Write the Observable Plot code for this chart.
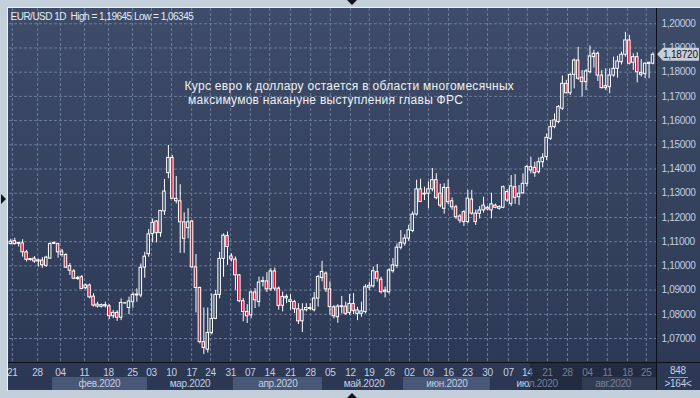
<!DOCTYPE html>
<html><head><meta charset="utf-8">
<script src="https://cdn.jsdelivr.net/npm/d3@7"></script>
<script src="https://cdn.jsdelivr.net/npm/@observablehq/plot@0.6"></script>
<style>
html,body{margin:0;padding:0;background:#c4cfdc;}
#chart{position:relative;width:700px;height:398px;overflow:hidden;}
</style></head><body><div id="chart"></div>
<script>
// ---- data: daily EUR/USD candles (open, high, low, close) ----
const opens = [1.1090,1.1102,1.1091,1.1093,1.1056,1.1024,1.1030,1.1018,1.1022,1.1000,1.1030,1.1091,1.1090,1.1059,1.1045,1.0999,1.0977,1.0946,1.0953,1.0908,1.0919,1.0873,1.0832,1.0831,1.0833,1.0833,1.0792,1.0806,1.0786,1.0845,1.0826,1.0850,1.0878,1.0878,1.0993,1.1048,1.1132,1.1183,1.1135,1.1225,1.1383,1.1446,1.1277,1.1267,1.1180,1.1156,1.1183,1.0994,1.0909,1.0685,1.0654,1.0723,1.0781,1.0880,1.1029,1.1123,1.1039,1.1026,1.0961,1.0854,1.0810,1.0796,1.0890,1.0851,1.0934,1.0936,1.0903,1.0977,1.0906,1.0835,1.0866,1.0851,1.0851,1.0821,1.0771,1.0817,1.0822,1.0817,1.0865,1.0950,1.0968,1.0903,1.0829,1.0788,1.0830,1.0832,1.0805,1.0843,1.0802,1.0802,1.0809,1.0910,1.0915,1.0974,1.0943,1.0893,1.0891,1.0978,1.1000,1.1075,1.1092,1.1113,1.1144,1.1212,1.1316,1.1295,1.1298,1.1316,1.1354,1.1298,1.1236,1.1322,1.1267,1.1242,1.1204,1.1222,1.1181,1.1274,1.1216,1.1215,1.1229,1.1240,1.1229,1.1249,1.1236,1.1240,1.1305,1.1256,1.1325,1.1284,1.1300,1.1339,1.1394,1.1405,1.1387,1.1428,1.1449,1.1525,1.1573,1.1594,1.1649,1.1752,1.1713,1.1789,1.1848,1.1777,1.1759,1.1800,1.1862,1.1876,1.1786,1.1742,1.1738,1.1786,1.1814,1.1841,1.1872,1.1931,1.1839,1.1862,1.1797,1.1793,1.1834,1.1835];
const highs = [1.1110,1.1114,1.1097,1.1108,1.1064,1.1031,1.1038,1.1028,1.1034,1.1040,1.1095,1.1098,1.1094,1.1068,1.1050,1.1010,1.0985,1.0957,1.0960,1.0925,1.0925,1.0885,1.0850,1.0842,1.0850,1.0840,1.0816,1.0815,1.0864,1.0848,1.0871,1.0891,1.0905,1.1008,1.1056,1.1150,1.1194,1.1187,1.1229,1.1357,1.1497,1.1456,1.1369,1.1335,1.1219,1.1236,1.1187,1.1047,1.0912,1.0826,1.0826,1.0884,1.0898,1.1056,1.1132,1.1140,1.1050,1.1037,1.0964,1.0865,1.0840,1.0895,1.0906,1.0954,1.0954,1.0972,1.0988,1.0991,1.0913,1.0892,1.0881,1.0881,1.0858,1.0844,1.0844,1.0844,1.0844,1.0890,1.0961,1.1019,1.0975,1.0934,1.0836,1.0840,1.0874,1.0850,1.0882,1.0885,1.0829,1.0850,1.0922,1.0933,1.0995,1.1006,1.0953,1.0912,1.0988,1.1030,1.1091,1.1146,1.1129,1.1168,1.1223,1.1354,1.1358,1.1325,1.1347,1.1402,1.1381,1.1337,1.1339,1.1355,1.1280,1.1250,1.1212,1.1228,1.1312,1.1312,1.1230,1.1245,1.1284,1.1245,1.1300,1.1255,1.1248,1.1330,1.1315,1.1373,1.1377,1.1332,1.1380,1.1415,1.1449,1.1428,1.1446,1.1463,1.1545,1.1601,1.1628,1.1662,1.1784,1.1766,1.1793,1.1855,1.1903,1.1807,1.1811,1.1908,1.1890,1.1883,1.1807,1.1814,1.1814,1.1862,1.1866,1.1883,1.19645,1.1952,1.1876,1.1880,1.1852,1.1839,1.1839,1.1880];
const lows = [1.1087,1.1086,1.1078,1.1036,1.1016,1.1020,1.1011,1.0995,1.0990,1.0994,1.1027,1.1088,1.1032,1.1036,1.0990,1.0960,1.0943,1.0940,1.0902,1.0902,1.0864,1.0830,1.0826,1.0826,1.0826,1.0778,1.0782,1.0771,1.0774,1.0842,1.0799,1.0825,1.0850,1.0868,1.0949,1.1036,1.1095,1.1095,1.1118,1.1208,1.1360,1.1274,1.1256,1.1052,1.1052,1.1112,1.0990,1.0806,1.0678,1.06345,1.0640,1.0715,1.0778,1.0864,1.0953,1.1002,1.1016,1.0899,1.0848,1.0769,1.0762,1.0782,1.0824,1.0830,1.0913,1.0890,1.0895,1.0895,1.0817,1.0810,1.0844,1.0817,1.0803,1.0758,1.0725,1.0810,1.0815,1.0810,1.0830,1.0934,1.0890,1.0796,1.0781,1.0763,1.0802,1.0795,1.0795,1.0799,1.0774,1.0788,1.0802,1.0898,1.0909,1.0933,1.0884,1.0868,1.0884,1.0970,1.0990,1.1066,1.1082,1.1101,1.1137,1.1206,1.1261,1.1270,1.1236,1.1306,1.1273,1.1240,1.1214,1.1253,1.1230,1.1192,1.1175,1.1163,1.1174,1.1209,1.1167,1.1194,1.1218,1.1228,1.1194,1.1236,1.1230,1.1236,1.1262,1.1245,1.1254,1.1249,1.1295,1.1325,1.1380,1.1366,1.1380,1.1405,1.1435,1.1518,1.1566,1.1587,1.1642,1.1711,1.1704,1.1731,1.1766,1.1697,1.1724,1.1793,1.1817,1.1762,1.1731,1.1724,1.1711,1.1779,1.1775,1.1830,1.1862,1.1830,1.1807,1.1756,1.1780,1.1773,1.1773,1.1830];
const closes = [1.1100,1.1090,1.1095,1.1056,1.1025,1.1028,1.1018,1.1023,1.1003,1.1034,1.1090,1.1095,1.1056,1.1045,1.0993,1.0980,1.0947,1.0950,1.0905,1.0919,1.0870,1.0836,1.0840,1.0838,1.0838,1.0792,1.0806,1.0786,1.0847,1.0846,1.0853,1.0880,1.0882,1.0992,1.1038,1.1130,1.1178,1.1135,1.1227,1.1307,1.1446,1.1277,1.1267,1.1180,1.1112,1.1180,1.0994,1.0909,1.0685,1.0661,1.0723,1.0781,1.0880,1.1029,1.1125,1.1078,1.1027,1.0961,1.0854,1.0810,1.0792,1.0890,1.0858,1.0931,1.0937,1.0903,1.0977,1.0906,1.0835,1.0872,1.0872,1.0858,1.0821,1.0771,1.0817,1.0826,1.0826,1.0865,1.0954,1.0975,1.0903,1.0830,1.0792,1.0832,1.0833,1.0802,1.0843,1.0813,1.0816,1.0812,1.0912,1.0918,1.0978,1.0947,1.0891,1.0898,1.0981,1.1002,1.1075,1.1094,1.1113,1.1147,1.1212,1.1316,1.1264,1.1298,1.1316,1.1354,1.1280,1.1249,1.1322,1.1263,1.1242,1.1201,1.1187,1.1181,1.1278,1.1216,1.1181,1.1229,1.1249,1.1233,1.1254,1.1240,1.1243,1.1325,1.1270,1.1328,1.1281,1.1298,1.1339,1.1408,1.1408,1.1383,1.1428,1.1446,1.1529,1.1573,1.1601,1.1656,1.1752,1.1713,1.1789,1.1848,1.1773,1.1759,1.1803,1.1865,1.1876,1.1786,1.1734,1.1734,1.1786,1.1814,1.1844,1.1872,1.1931,1.1835,1.1862,1.1800,1.1789,1.1835,1.1839,1.1872];

// ---- axis / label data ----
const priceTicks = [1.07,1.08,1.09,1.10,1.11,1.12,1.13,1.14,1.15,1.16,1.17,1.18,1.19,1.20];
const dayLabels = ["21","28","04","11","18","25","03","10","17","24","31","07","14","21","28","05","12","19","26","02","09","16","23","30","07","14","21","28","04","11","18","25"];
const dayTickPos = [0.4,6.8,12.6,18.7,24.8,30.9,35.7,40.8,45.9,50.7,55.8,60.8,65.7,71.0,76.1,81.1,86.2,91.0,96.1,101.2,106.0,111.1,115.9,121.0,126.3,131.1,136.2,141.3,146.4,151.4,156.5,161.3];
const monthLabels = ["фев.2020","мар.2020","апр.2020","май.2020","июн.2020","июл.2020","авг.2020"];
const monthStart = [10.6,34.7,56.5,79.1,99.7,121.7,145.1];
const monthLabelPos = [22.6,45.6,67.9,89.8,110.8,133.7,153.0];
const dimFrom = 131.9;
const lastPrice = 1.18720;
const symbol = "EUR/USD 1D";
const noteLines = ["Курс евро к доллару остается в области многомесячных", " максимумов накануне выступления главы ФРС"];
const barsShown = "848";

const upFill = "#35435f", downFill = "#e0173c";
const labelColor = "#c3cfe2";
const fmt = d => d.toFixed(5).replace(".", ",");
const data = opens.map((o, i) => ({i, o, h: highs[i], l: lows[i], c: closes[i]}));
const dayLabelByPos = new Map(dayTickPos.map((p, k) => [p, dayLabels[k]]));
const title = `${symbol}  High = ${fmt(d3.max(highs))} Low = ${fmt(d3.min(lows))}`;

const chart = Plot.plot({
  width: 700, height: 398,
  marginTop: 8, marginRight: 43, marginBottom: 36, marginLeft: 9,
  x: {type: "linear", domain: [-0.33, 164.14]},
  y: {domain: [1.0601, 1.2063]},
  color: {type: "identity"},
  style: {background: "transparent", fontFamily: "'Liberation Sans', Arial, sans-serif", fontSize: "10px", color: labelColor, letterSpacing: "-0.3px", overflow: "visible"},
  marks: [
    Plot.gridX(dayTickPos, {stroke: "#6a7b9b", strokeOpacity: 1, strokeDasharray: "3,2"}),
    Plot.gridY(priceTicks, {stroke: "#6a7b9b", strokeOpacity: 1, strokeDasharray: "3,2"}),
    Plot.axisY(priceTicks, {anchor: "right", tickSize: 0, tickPadding: 4, tickFormat: fmt, label: null, fill: labelColor, fontSize: 10}),
    Plot.axisX(dayTickPos, {anchor: "bottom", tickSize: 0, tickPadding: 6, tickFormat: d => dayLabelByPos.get(d), label: null, fill: labelColor, fontSize: 10}),
    Plot.ruleX(data, {x: "i", y1: "l", y2: "h", stroke: "#ffffff", strokeWidth: 1}),
    Plot.rect(data, {x1: d => d.i - 0.32, x2: d => d.i + 0.32, y1: "o", y2: "c", fill: d => d.c >= d.o ? upFill : downFill, stroke: "#ffffff", strokeWidth: 1}),
    Plot.text([title], {frameAnchor: "top-left", dx: 1, dy: 4, lineAnchor: "top", textAnchor: "start", fill: "#e6ebf2", fontSize: 10}),
    Plot.text([noteLines[0]], {frameAnchor: "top-left", dx: 175, dy: 73, lineAnchor: "top", textAnchor: "start", fill: "#eef1f6", fontSize: 12}),
    Plot.text([noteLines[1]], {frameAnchor: "top-left", dx: 175, dy: 87, lineAnchor: "top", textAnchor: "start", fill: "#eef1f6", fontSize: 12})
  ]
});

document.getElementById("chart").appendChild(chart);

// ---- chrome drawn through the same scales ----
const svg = d3.select(chart);
const xs = chart.scale("x"), ys = chart.scale("y");
const X = v => xs.apply(v), Y = v => ys.apply(v);
const defs = svg.append("defs");
const grad = defs.append("linearGradient").attr("id", "panelGrad").attr("x1", 0).attr("y1", 0).attr("x2", 0).attr("y2", 1);
grad.append("stop").attr("offset", "0%").attr("stop-color", "#3e4c69");
grad.append("stop").attr("offset", "100%").attr("stop-color", "#2c3853");

const bg = svg.insert("g", ":first-child");
bg.append("rect").attr("x", 8).attr("y", 8).attr("width", 692).attr("height", 382).attr("fill", "url(#panelGrad)");
const domEnd = xs.domain[1];
monthLabels.forEach((m, k) => {
  const a = X(monthStart[k]), b = X(k + 1 < monthStart.length ? monthStart[k + 1] : domEnd);
  if (k % 2 === 0) bg.append("rect").attr("x", a).attr("y", 377).attr("width", b - a).attr("height", 13).attr("fill", "#4a5877");
  bg.append("text").attr("x", X(monthLabelPos[k])).attr("y", 387).attr("text-anchor", "middle")
    .attr("fill", labelColor).attr("font-size", 10).text(m);
});

// text widths like the original
svg.selectAll("text").each(function () {
  const t = this.textContent;
  if (t === title) this.setAttribute("textLength", 183);
  if (t === noteLines[0]) this.setAttribute("textLength", 329);
  if (t === noteLines[1]) this.setAttribute("textLength", 278);
});

const fg = svg.append("g");
// dimmed region of the time axis
fg.append("rect").attr("x", X(dimFrom)).attr("y", 363).attr("width", 657 - X(dimFrom)).attr("height", 27).attr("fill", "#141b2b").attr("opacity", 0.45);
// separators
fg.append("line").attr("x1", 656.5).attr("x2", 656.5).attr("y1", 8).attr("y2", 390).attr("stroke", "#0b0f18");
fg.append("line").attr("x1", 8).attr("x2", 700).attr("y1", 362.5).attr("y2", 362.5).attr("stroke", "#0b0f18");
// light border
fg.append("line").attr("x1", 7.5).attr("x2", 7.5).attr("y1", 7).attr("y2", 391).attr("stroke", "#eef2f7");
fg.append("line").attr("x1", 7).attr("x2", 700).attr("y1", 7.5).attr("y2", 7.5).attr("stroke", "#eef2f7");
// current price tag (covers the neighbouring tick label as in the original)
const py = Y(lastPrice);
fg.append("path").attr("d", `M657,${py} L663,${py - 6.5} L699,${py - 6.5} L699,${py + 6.5} L663,${py + 6.5} Z`).attr("fill", "#c8cdd6");
fg.append("text").attr("x", 663).attr("y", py + 3.5).attr("text-anchor", "start").attr("fill", "#0f141e").attr("font-size", 10).attr("letter-spacing", "-0.2px").text(fmt(lastPrice));
// bars box
fg.append("text").attr("x", 678).attr("y", 374).attr("text-anchor", "middle").attr("fill", labelColor).attr("font-size", 10).text(barsShown);
fg.append("line").attr("x1", 668).attr("x2", 688).attr("y1", 377.5).attr("y2", 377.5).attr("stroke", "#8c9ab3");
fg.append("text").attr("x", 678).attr("y", 387).attr("text-anchor", "middle").attr("fill", labelColor).attr("font-size", 10).text(`>${opens.length}<`);
// scroll markers
fg.append("path").attr("d", "M347,0 L357,0 L352,5 Z").attr("fill", "#10131a");
fg.append("path").attr("d", "M347,398 L357,398 L352,393 Z").attr("fill", "#10131a");
fg.append("path").attr("d", "M1,194 L6,199 L1,204 Z").attr("fill", "#10131a");
</script>
</body></html>
